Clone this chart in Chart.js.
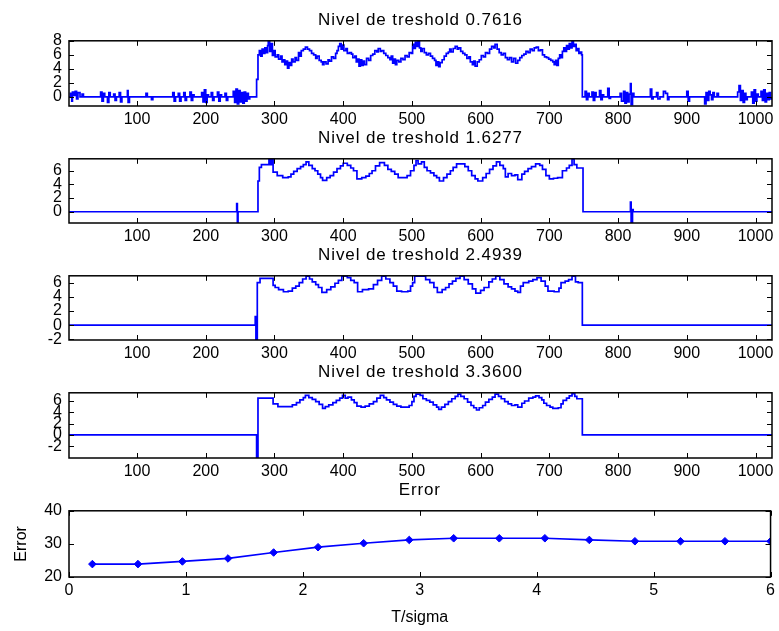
<!DOCTYPE html>
<html>
<head>
<meta charset="utf-8">
<script src="https://cdn.jsdelivr.net/npm/chart.js@4.4.0/dist/chart.umd.min.js"></script>
<style>
    body { margin: 0; background: #fff; }
    #wrap { position: relative; width: 779px; height: 631px; }
    canvas { position: absolute; left: 0; }
</style>
</head>
<body>
<div id="wrap">
    <canvas id="c1" width="779" height="120" style="top:10px"></canvas>
    <canvas id="c2" width="779" height="119" style="top:128px"></canvas>
    <canvas id="c3" width="779" height="119" style="top:245px"></canvas>
    <canvas id="c4" width="779" height="120" style="top:362px"></canvas>
    <canvas id="c5" width="779" height="151" style="top:480px"></canvas>
</div>
<script>
// Datos: pares [muestra, valor]

// Nivel 0.7616 - ruido en la base izquierda
const ruidoIzq = [
    [1,0],[3,0.5],[5,-0.6],[6,0.7],[8,0.2],[10,0.8],[12,-0.3],[14,0.6],[17,0],[20,0.4],[22,0],
    [45,0],[47,0.7],[49,-0.6],[51,0.5],[53,0],[57,-0.8],[59,0.6],[61,0],[66,0.4],[68,-0.5],[70,0],
    [74,0.6],[76,-0.7],[78,0],[86,0.9],[87,-0.8],[89,0],
    [112,0],[113,0.5],[115,0],[121,-0.4],[123,0],
    [150,0],[152,0.6],[154,-0.6],[156,0],[160,0.5],[162,-0.6],[164,0],[168,0.6],[170,-0.5],[172,0],
    [177,0.7],[179,-0.5],[181,0.3],[183,0],
    [192,0],[194,0.6],[196,-0.7],[198,1.0],[200,-0.8],[202,0.3],[204,0],[208,0.6],[210,-0.5],[212,0],
    [217,0.7],[219,-0.6],[221,0.3],[223,0],[228,0.5],[230,-0.5],[232,0],
    [238,0],[240,0.8],[242,-0.8],[244,1.1],[246,-1.0],[248,0.9],[250,-0.7],[252,0.6],[254,-0.9],
    [256,0.7],[258,-0.6],[260,0.5],[262,-0.3],[264,0],[273,0],[274,2.5]
];

// Nivel 0.7616 - parte con senal
const senalCentro = [
    [276,6.0],[278,6.6],[280,5.8],[282,6.8],[284,6.2],[286,7.0],[288,6.3],[290,7.3],[291,8.0],[293,6.5],
    [295,7.6],[297,5.9],[299,6.6],[301,5.7],[304,6.0],[306,5.4],[309,5.8],[311,5.0],[313,5.3],[315,4.6],
    [317,5.1],[319,4.1],[321,4.9],[323,4.5],[325,5.4],[327,5.0],[330,5.6],[332,5.2],[335,6.3],[337,5.8],
    [339,6.6],[342,6.8],[345,7.1],[348,6.8],[351,6.6],[354,6.2],[357,6.0],[360,5.5],[362,5.8],[365,5.2],
    [368,5.0],[370,4.6],[372,5.0],[375,4.7],[378,5.3],[380,5.1],[383,5.7],[386,5.5],[389,6.2],[391,6.6],
    [393,7.2],[395,7.6],[397,6.8],[399,7.4],[401,6.6],[404,6.9],[406,6.2],[409,6.3],[412,6.1],[414,5.6],
    [417,5.8],[419,5.0],[421,5.4],[423,4.4],[425,5.3],[427,4.5],[429,5.1],[431,4.6],[434,5.5],[437,5.2],
    [440,5.9],[443,6.1],[446,6.6],[449,6.4],[451,6.9],[454,6.5],[456,6.6],[459,6.2],[462,5.9],[465,5.6],
    [468,5.3],[470,5.8],[472,4.8],[474,5.4],[476,4.6],[478,5.2],[481,5.0],[484,5.5],[487,5.3],[490,5.9],
    [493,5.7],[496,6.3],[499,6.2],[501,7.5],[503,6.9],[505,7.8],[507,7.2],[509,8.0],[511,7.0],[513,6.5],
    [515,6.9],[518,6.3],[521,6.0],[524,6.2],[527,5.8],[530,5.5],[533,5.2],[535,4.5],[537,5.0],[539,4.3],
    [541,4.9],[544,5.3],[547,5.8],[550,6.2],[553,6.4],[555,6.8],[557,6.4],[560,6.9],[563,7.2],[566,6.8],
    [568,7.0],[571,6.5],[574,6.2],[577,6.0],[580,5.5],[583,5.7],[585,5.0],[588,4.6],[590,5.1],[592,4.4],
    [595,5.0],[598,5.3],[601,5.9],[604,5.7],[607,6.3],[610,6.2],[613,6.8],[616,7.2],[619,7.0],[621,7.5],
    [624,6.8],[627,6.3],[630,6.0],[633,6.2],[636,5.6],[639,5.3],[642,5.6],[645,5.0],[648,5.5],[651,4.8],
    [654,5.2],[657,5.6],[660,5.9],[663,6.1],[666,6.5],[669,6.3],[672,6.8],[675,6.6],[678,7.0],[681,7.1],
    [684,6.6],[687,6.7],[690,6.0],[693,5.7],[696,5.6],[699,5.4],[702,5.2],[705,5.0],[707,4.6],[709,5.2],
    [711,4.5],[713,5.5],[715,6.0],[717,5.6],[719,6.5],[721,7.0],[723,6.5],[725,7.3],[727,6.8],[729,7.6],
    [731,7.0],[733,8.0],[735,7.2],[737,7.5],[739,6.6],[741,6.9],[743,6.2],[745,6.4],[747,6.0]
];

// Nivel 0.7616 - ruido en la base derecha
const ruidoDer = [
    [748,0],[752,0.8],[754,-0.4],[756,0.5],[758,0],[762,0.7],[764,-0.5],[766,0.6],[768,0],[773,0.9],
    [775,-0.4],[777,0.3],[779,0],[785,1.2],[787,-0.2],[789,0],
    [800,0],[803,0.5],[805,-0.6],[808,0.8],[810,-0.9],[812,0.6],[814,-0.7],[816,0.4],[818,1.9],[819,-1.1],
    [821,0.5],[823,0],
    [846,0],[847,1.1],[849,-0.3],[851,0],[856,0.6],[858,-0.3],[861,0],[866,0.8],[869,0.5],[872,-0.4],[874,0],
    [899,0],[900,0.8],[902,-0.6],[904,0],
    [924,0],[926,-1.0],[928,0.6],[930,-0.5],[932,0.8],[934,0.3],[936,-0.4],[938,0.6],[940,0],[944,0.5],[946,0],
    [972,0],[974,0.7],[976,1.6],[978,-0.5],[980,0.9],[982,-0.8],[984,0.5],[986,-0.4],[988,0],[994,0.7],
    [996,-0.9],[998,1.0],[1000,-0.6],[1002,0.4],[1004,0],[1008,0.8],[1010,-0.5],[1012,1.0],[1014,-0.7],
    [1016,0.5],[1018,-0.4],[1020,0.6],[1022,-0.3],[1024,0]
];

const nivel1 = [...ruidoIzq, ...senalCentro, ...ruidoDer];

// Nivel 1.6277
const nivel2 = [
    [1,0],[245,1.2],[246,-1.6],[247,0],[274,0],[276,4.5],[278,6.5],[281,6.9],[292,7.7],[294,6.9],[296,7.7],
    [298,5.8],[304,5.3],[312,5.0],[320,5.1],[324,5.5],[328,5.9],[333,6.3],[338,6.6],[342,6.9],[346,7.3],
    [350,6.8],[355,6.3],[359,6.0],[363,5.5],[367,5.0],[370,4.6],[376,5.0],[381,5.3],[386,5.8],[391,6.3],
    [396,6.7],[400,7.1],[406,6.8],[411,6.4],[415,6.0],[420,4.8],[427,5.0],[433,5.2],[438,5.6],[442,6.0],
    [447,6.7],[453,7.2],[460,6.8],[465,6.2],[470,5.9],[475,5.5],[480,5.0],[493,5.3],[498,6.0],[503,6.8],
    [506,7.5],[509,7.0],[514,7.3],[518,6.5],[522,6.0],[527,5.7],[532,5.3],[536,5.0],[540,4.5],[546,5.0],
    [551,5.5],[556,6.0],[560,6.5],[565,7.0],[577,6.6],[582,6.0],[587,5.3],[592,4.8],[596,4.5],[603,5.0],
    [608,5.6],[613,6.2],[618,6.7],[623,7.3],[628,6.8],[633,6.3],[636,5.1],[640,5.6],[645,5.3],[650,5.4],
    [654,4.7],[660,5.5],[664,5.9],[669,6.3],[674,6.6],[680,7.0],[686,6.8],[690,6.2],[695,5.3],[700,4.8],
    [706,4.9],[712,5.0],[719,6.0],[725,6.4],[729,6.8],[733,7.7],[736,6.9],[740,6.4],[749,0],[817,0],
    [818,1.4],[819,-1.6],[821,0.3],[822,0],[1024,0]
];

// Nivel 2.4939
const nivel3 = [
    [1,0],[272,1.2],[273,-2.1],[275,6.0],[279,6.6],[298,5.6],[301,5.3],[306,5.0],[313,4.7],[320,4.8],
    [326,5.2],[331,5.5],[336,6.0],[341,6.5],[346,6.9],[351,6.5],[355,6.1],[360,5.7],[364,5.3],[369,4.6],
    [376,5.0],[382,5.4],[388,5.9],[393,6.3],[398,6.9],[406,6.7],[411,6.3],[416,6.0],[421,4.7],[428,5.0],
    [437,5.1],[444,5.7],[450,6.3],[456,6.9],[462,6.5],[468,6.0],[473,5.5],[478,4.8],[485,4.7],[494,4.8],
    [498,5.5],[501,6.0],[504,6.9],[516,6.9],[520,6.4],[526,6.0],[532,5.3],[537,4.6],[544,5.0],[549,5.3],
    [554,5.8],[559,6.2],[564,6.6],[570,6.9],[576,6.4],[582,5.8],[588,5.1],[593,4.5],[600,4.9],[605,5.3],
    [612,6.1],[617,6.5],[622,6.9],[628,6.4],[634,5.8],[640,5.4],[645,5.1],[650,4.8],[654,4.6],[658,5.5],
    [662,6.0],[670,6.2],[676,6.4],[682,6.7],[688,6.2],[694,5.5],[698,4.8],[707,4.7],[714,5.2],[717,6.0],
    [723,6.2],[728,6.4],[733,6.9],[738,6.1],[742,6.0],[748,0],[1024,0]
];

// Nivel 3.3600
const nivel4 = [
    [1,0],[274,-4.1],[276,6.5],[298,5.5],[305,5.0],[326,5.3],[332,5.7],[337,6.2],[342,6.6],[345,7.0],
    [350,6.6],[355,6.3],[360,5.9],[365,5.4],[370,4.7],[374,5.0],[379,5.3],[385,5.7],[390,6.1],[395,6.5],
    [399,7.0],[403,6.5],[407,6.7],[412,6.2],[416,5.7],[420,5.1],[426,4.9],[432,5.1],[438,5.5],[444,5.9],
    [449,6.5],[454,7.0],[459,6.6],[463,6.2],[468,5.8],[473,5.4],[478,5.1],[484,4.9],[496,5.2],[500,5.9],
    [503,6.8],[506,7.2],[512,7.0],[516,6.4],[521,6.1],[526,5.8],[531,5.3],[536,4.9],[539,4.5],[543,4.9],
    [548,5.4],[553,5.9],[558,6.4],[563,6.8],[567,7.2],[571,6.8],[576,6.4],[581,5.8],[586,5.2],[590,4.8],
    [594,4.4],[598,4.8],[603,5.2],[607,5.8],[612,6.3],[617,6.7],[621,7.2],[626,6.8],[630,6.4],[635,5.9],
    [640,5.5],[645,5.2],[650,5.3],[654,4.9],[660,5.6],[664,6.0],[670,6.5],[676,6.7],[680,6.9],[685,6.6],
    [689,6.2],[692,5.6],[696,5.2],[701,4.9],[705,4.7],[713,4.8],[717,5.5],[720,6.1],[725,6.5],[729,6.9],
    [733,7.3],[737,6.8],[740,6.4],[748,0],[1024,0]
];

// Error frente a T/sigma
const tSigma = [0.2, 0.59, 0.97, 1.36, 1.75, 2.13, 2.52, 2.91, 3.29, 3.68, 4.07, 4.45, 4.84, 5.23, 5.61, 6.0];
const errores = [23.9, 23.9, 24.7, 25.6, 27.4, 29.0, 30.2, 31.2, 31.7, 31.7, 31.7, 31.2, 30.8, 30.8, 30.8, 30.8];

// Marcas de los ejes
const ticksMuestras = [100, 200, 300, 400, 500, 600, 700, 800, 900, 1000];
const ticksY1 = [0, 2, 4, 6, 8];
const ticksY2 = [0, 2, 4, 6];
const ticksY34 = [-2, 0, 2, 4, 6];
const ticksTSigma = [0, 1, 2, 3, 4, 5, 6];
const ticksError = [20, 30, 40];

const AZUL = '#0000ff';
Chart.defaults.font.family = "'Liberation Sans', Arial, sans-serif";
Chart.defaults.font.size = 16;
Chart.defaults.color = '#000';

// Caja con marcas hacia dentro, como en MATLAB
const marcoMatlab = {
    id: 'marcoMatlab',
    afterDatasetsDraw(chart) {
        const { ctx, chartArea: a, scales: { x, y } } = chart;
        ctx.save();
        ctx.strokeStyle = '#000';
        ctx.lineWidth = 1;
        ctx.beginPath();
        x.ticks.forEach(t => {
            const px = Math.round(x.getPixelForValue(t.value)) + 0.5;
            ctx.moveTo(px, a.bottom); ctx.lineTo(px, a.bottom - 5);
            ctx.moveTo(px, a.top); ctx.lineTo(px, a.top + 5);
        });
        y.ticks.forEach(t => {
            const py = Math.round(y.getPixelForValue(t.value)) + 0.5;
            ctx.moveTo(a.left, py); ctx.lineTo(a.left + 5, py);
            ctx.moveTo(a.right, py); ctx.lineTo(a.right - 5, py);
        });
        ctx.stroke();
        ctx.lineWidth = 1.5;
        ctx.strokeRect(a.left, a.top, a.right - a.left, a.bottom - a.top);
        ctx.restore();
    }
};

// Titulo con letras algo separadas
const tituloEspaciado = {
    id: 'tituloEspaciado',
    afterInit(chart) {
        const block = chart.titleBlock;
        if (!block) return;
        const draw = block.draw.bind(block);
        block.draw = function() {
            chart.ctx.save();
            chart.ctx.letterSpacing = '0.9px';
            draw();
            chart.ctx.restore();
        };
    }
};

function fijarTicks(lista) {
    return scale => { scale.ticks = lista.map(v => ({ value: v })); };
}

function crearPanel(id, titulo, datasets, ejes) {
    const ctx = document.getElementById(id).getContext('2d');
    return new Chart(ctx, {
        type: 'line',
        data: { datasets: datasets },
        options: {
            responsive: false,
            animation: false,
            events: [],
            layout: { padding: { left: 0, right: 7, top: 0, bottom: 0 } },
            plugins: {
                legend: { display: false },
                tooltip: { enabled: false },
                title: {
                    display: true,
                    text: titulo,
                    fullSize: false,
                    font: { size: 17, weight: 'normal' },
                    padding: { top: 0, bottom: 10.4 }
                }
            },
            scales: {
                x: {
                    type: 'linear',
                    min: ejes.xMin, max: ejes.xMax,
                    afterBuildTicks: fijarTicks(ejes.xTicks),
                    afterFit: s => { s.height = ejes.altoX; },
                    grid: { display: false, drawTicks: false },
                    border: { display: false },
                    ticks: { padding: 4, autoSkip: false, maxRotation: 0, callback: v => String(v) },
                    title: ejes.tituloX ? { display: true, text: ejes.tituloX, padding: { top: 0, bottom: 4 } } : { display: false }
                },
                y: {
                    min: ejes.yMin, max: ejes.yMax,
                    afterBuildTicks: fijarTicks(ejes.yTicks),
                    afterFit: s => { s.width = 69; },
                    grid: { display: false, drawTicks: false },
                    border: { display: false },
                    ticks: { padding: 7, autoSkip: false, callback: v => String(v) },
                    title: ejes.tituloY ? { display: true, text: ejes.tituloY, padding: { top: 12, bottom: 0 } } : { display: false }
                }
            }
        },
        plugins: [marcoMatlab, tituloEspaciado]
    });
}

function serieEscalonada(pares) {
    return {
        data: pares.map(([x, y]) => ({ x: x, y: y })),
        borderColor: AZUL,
        borderWidth: 1.7,
        pointRadius: 0,
        stepped: true,
        tension: 0
    };
}

const ejesMuestras = (yMin, yMax, yTicks) => ({
    xMin: 1, xMax: 1024, xTicks: ticksMuestras, altoX: 24,
    yMin: yMin, yMax: yMax, yTicks: yTicks
});

crearPanel('c1', 'Nivel de treshold 0.7616', [serieEscalonada(nivel1)], ejesMuestras(-1.3, 8, ticksY1));
crearPanel('c2', 'Nivel de treshold 1.6277', [serieEscalonada(nivel2)], ejesMuestras(-1.65, 7.75, ticksY2));
crearPanel('c3', 'Nivel de treshold 2.4939', [serieEscalonada(nivel3)], ejesMuestras(-2.1, 6.95, ticksY34));
crearPanel('c4', 'Nivel de treshold 3.3600', [serieEscalonada(nivel4)], ejesMuestras(-4.1, 7.45, ticksY34));

crearPanel('c5', 'Error', [{
    data: tSigma.map((t, i) => ({ x: t, y: errores[i] })),
    borderColor: AZUL,
    backgroundColor: AZUL,
    borderWidth: 1.7,
    pointStyle: 'rectRot',
    pointRadius: 3.8,
    pointBorderWidth: 1,
    tension: 0
}], {
    xMin: 0, xMax: 6, xTicks: ticksTSigma, altoX: 54, tituloX: 'T/sigma',
    yMin: 20, yMax: 40, yTicks: ticksError, tituloY: 'Error'
});
</script>
</body>
</html>
